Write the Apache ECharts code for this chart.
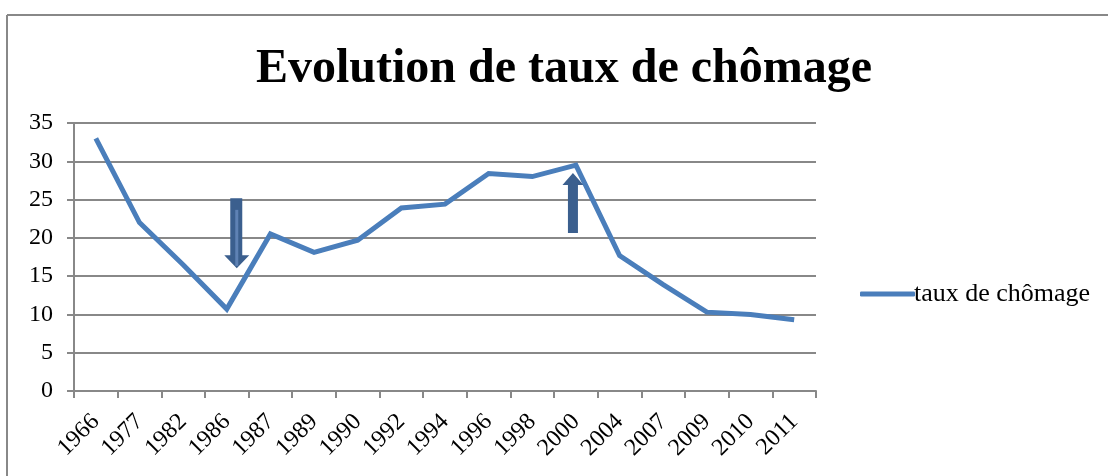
<!DOCTYPE html>
<html>
<head>
<meta charset="utf-8">
<script src="https://cdn.jsdelivr.net/npm/echarts@6/dist/echarts.min.js"></script>
<style>
  html, body { margin: 0; padding: 0; background: #fff; }
  #chart { width: 1108px; height: 476px; }
</style>
</head>
<body>
<div id="chart"></div>
<script>
const years = ["1966", "1977", "1982", "1986", "1987", "1989", "1990", "1992", "1994",
  "1996", "1998", "2000", "2004", "2007", "2009", "2010", "2011"];
const taux = [33, 22, 16.5, 10.7, 20.5, 18.1, 19.7, 23.9, 24.4, 28.4, 28.0, 29.5,
  17.7, 13.9, 10.3, 10.0, 9.3];
const yTicks = [0, 5, 10, 15, 20, 25, 30, 35];

const serif = "'Liberation Serif', 'Times New Roman', serif";
const gray = "#888888";
const arrowColor = "#3b5f8e";

const chart = echarts.init(document.getElementById("chart"));

chart.setOption({
  backgroundColor: "#fff",
  animation: false,
  title: {
    text: "Evolution de taux de chômage",
    left: 559,
    textAlign: "center",
    top: 41,
    textStyle: { fontFamily: serif, fontWeight: "bold", fontSize: 48, color: "#000" }
  },
  legend: {
    left: 855,
    top: 276,
    itemWidth: 55,
    itemHeight: 5,
    itemGap: 0,
    textStyle: { fontFamily: serif, fontSize: 26, color: "#000", padding: [0, 0, 0, -6] },
    data: [{ name: "taux de chômage", icon: "roundRect", itemStyle: { color: "#4a7ebb" } }]
  },
  grid: { left: 74, right: 292, top: 123, bottom: 85, containLabel: false },
  xAxis: {
    type: "category",
    data: years,
    boundaryGap: true,
    axisLine: { lineStyle: { color: gray, width: 2 } },
    axisTick: { show: true, interval: 0, length: 7, lineStyle: { color: gray, width: 2 } },
    axisLabel: {
      rotate: 45, interval: 0, hideOverlap: false, margin: 27,
      fontFamily: serif, fontSize: 24, color: "#000"
    }
  },
  yAxis: {
    type: "value",
    min: yTicks[0],
    max: yTicks[yTicks.length - 1],
    interval: 5,
    axisLine: { show: true, lineStyle: { color: gray, width: 2 } },
    axisTick: { show: true, length: 7, lineStyle: { color: gray, width: 2 } },
    axisLabel: { margin: 21, fontFamily: serif, fontSize: 24, color: "#000" },
    splitLine: { lineStyle: { color: gray, width: 2 } }
  },
  series: [{
    name: "taux de chômage",
    type: "line",
    data: taux,
    symbol: "none",
    lineStyle: { color: "#4a7ebb", width: 5, join: "miter" },
    itemStyle: { color: "#4a7ebb" },
    markPoint: {
      silent: true,
      label: { show: false },
      data: [
        {
          coord: ["1986", 20.6],
          symbol: "path://M6,0 L18,0 L18,57 L25,57 L12.5,70 L0,57 L6,57 Z",
          symbolSize: [25, 70],
          symbolOffset: [10, 0],
          itemStyle: { color: arrowColor }
        },
        {
          coord: ["1986", 20.0],
          symbol: "rect",
          symbolSize: [3, 56],
          symbolOffset: [10, 0],
          itemStyle: { color: "#5f82b4" }
        },
        {
          coord: ["2000", 24.55],
          symbol: "path://M10.5,0 L21,12 L15.5,12 L15.5,60 L5.5,60 L5.5,12 L0,12 Z",
          symbolSize: [21, 60],
          symbolOffset: [-3, 0],
          itemStyle: { color: arrowColor }
        }
      ]
    }
  }],
  graphic: [
    { type: "line", shape: { x1: 7, y1: 15, x2: 1108, y2: 15 }, style: { stroke: gray, lineWidth: 2 } },
    { type: "line", shape: { x1: 7, y1: 15, x2: 7, y2: 476 }, style: { stroke: gray, lineWidth: 2 } }
  ]
});

window.onresize = function () {
  chart.resize();
};
</script>
</body>
</html>
